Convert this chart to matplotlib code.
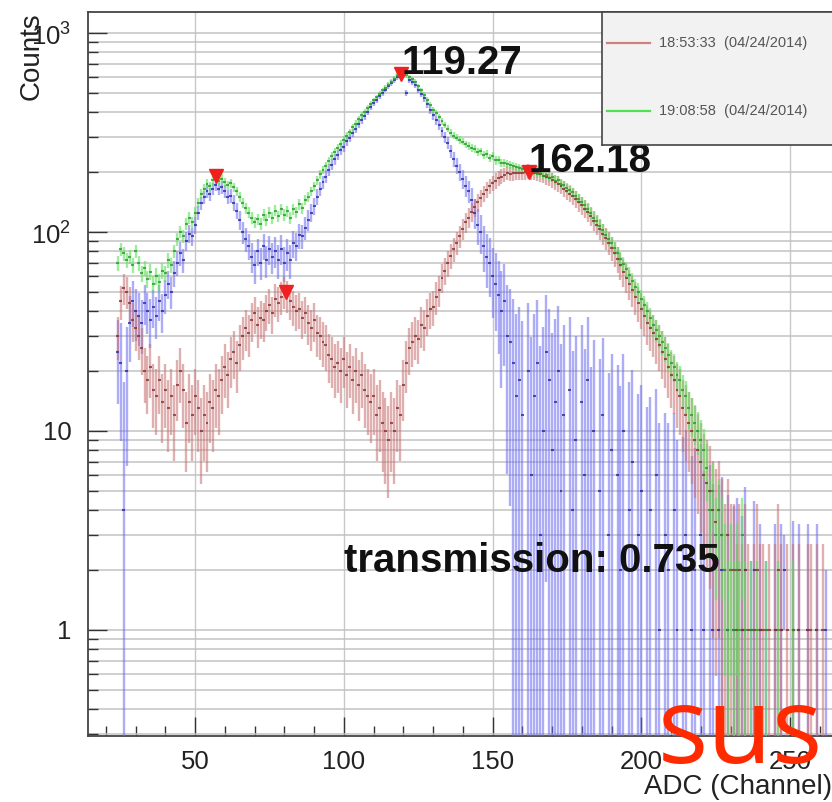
import numpy as np
import matplotlib

matplotlib.use("Agg")
import matplotlib.pyplot as plt
from matplotlib.ticker import MultipleLocator, LogLocator, FuncFormatter, NullFormatter

plt.rcParams["font.family"] = ["Liberation Sans", "DejaVu Sans"]
plt.rcParams["mathtext.fontset"] = "custom"
plt.rcParams["mathtext.rm"] = "Liberation Sans"

# ADC channels (bin centres), first bin = 24
first_channel = 24

# run 18:53:33 (04/24/2014)
red_counts = [
    30, 45, 52, 50, 44, 36, 33, 30, 26, 20,
    18, 21, 16, 15, 18, 14, 16, 13, 15, 12,
    17, 20, 16, 11, 14, 12, 15, 13, 10, 12,
    11, 14, 13, 16, 15, 18, 21, 19, 23, 25,
    22, 27, 30, 33, 31, 36, 39, 34, 37, 36,
    40, 43, 39, 46, 44, 47, 50, 48, 45, 42,
    40, 41, 37, 39, 35, 33, 36, 31, 30, 28,
    27, 24, 23, 21, 22, 20, 23, 19, 21, 18,
    20, 17, 19, 16, 15, 14, 15, 12, 13, 11,
    10, 9, 11, 10, 13, 12, 17, 22, 26, 28,
    30, 29, 34, 33, 38, 41, 42, 47, 51, 59,
    64, 70, 76, 82, 88, 95, 104, 112, 118, 126,
    133, 141, 148, 156, 163, 170, 176, 181, 186, 190,
    194, 198, 196, 197, 199, 199, 198, 200, 202, 199,
    199, 197, 195, 192, 189, 186, 182, 178, 175, 170,
    165, 160, 156, 151, 147, 141, 136, 131, 126, 120,
    114, 109, 104, 98, 93, 88, 83, 78, 73, 68,
    63, 59, 55, 51, 47, 44, 41, 38, 35, 33,
    31, 29, 27, 25, 23, 21, 19, 18, 16, 15,
    13, 12, 11, 10, 9, 8, 7, 6, 5.5, 5,
    4, 3.5, 4, 3, 2, 3, 2, 2, 1, 2,
    1, 2, 1, 0, 1, 2, 1, 1, 0, 1,
    0, 1, 2, 1, 0, 1, 0, 1, 0, 1,
    0, 0, 1, 1, 0, 1, 0, 1, 0,
]

# run 19:08:58 (04/24/2014)
green_counts = [
    70, 82, 78, 72, 75, 68, 80, 70, 62, 66,
    58, 63, 55, 60, 56, 64, 62, 72, 68, 80,
    92, 100, 95, 110, 118, 112, 125, 140, 155, 165,
    175, 170, 182, 188, 180, 185, 178, 172, 176, 168,
    160, 150, 140, 132, 125, 118, 112, 116, 110, 122,
    115, 125, 118, 128, 120, 130, 122, 127, 118, 130,
    126, 138, 132, 145, 150, 160, 170, 182, 195, 205,
    215, 228, 240, 252, 265, 278, 290, 305, 318, 335,
    350, 368, 385, 400, 420, 440, 458, 475, 495, 515,
    532, 550, 570, 590, 610, 630, 625, 615, 600, 585,
    570, 540, 515, 490, 460, 435, 412, 395, 378, 360,
    345, 330, 315, 305, 298, 290, 284, 276, 270, 265,
    262, 252, 254, 244, 246, 236, 240, 229, 231, 222,
    222, 220, 218, 215, 212, 210, 208, 206, 205, 203,
    203, 196, 199, 192, 194, 187, 189, 181, 182, 174,
    172, 167, 163, 158, 152, 147, 141, 136, 130, 124,
    118, 113, 107, 102, 97, 92, 88, 83, 78, 73,
    69, 65, 61, 57, 53, 50, 46, 43, 40, 37,
    34, 32, 30, 28, 26, 24, 22, 21, 19, 18,
    16, 15, 13, 12, 11, 10, 9, 8, 6.5, 4,
    5, 3, 4, 3, 2, 1, 2, 1, 2, 1,
    3, 1, 0, 1, 0, 1, 0, 0, 1, 0,
    0, 0, 1, 0, 0, 0, 0, 1, 0, 0,
    0, 0, 0, 0, 0, 0, 0, 0, 0,
]

# difference spectrum
blue_counts = [
    25, 22, 4, 20, 35, 45, 40, 38, 35, 44,
    40, 36, 42, 38, 45, 40, 48, 55, 50, 62,
    70, 78, 72, 90, 98, 95, 108, 125, 140, 150,
    160, 155, 165, 172, 165, 168, 160, 150, 152, 140,
    128, 115, 100, 92, 85, 75, 68, 80, 70, 85,
    72, 82, 75, 80, 72, 82, 70, 78, 72, 88,
    85, 96, 95, 105, 115, 125, 135, 150, 165, 178,
    190, 205, 218, 232, 245, 258, 268, 285, 298, 315,
    330, 348, 365, 382, 402, 425, 445, 462, 482, 502,
    520, 540, 560, 580, 600, 618, 612, 500, 580, 565,
    550, 520, 495, 470, 440, 410, 385, 365, 345, 320,
    300, 280, 255, 232, 215, 200, 185, 170, 160, 145,
    125, 108, 100, 85, 75, 70, 60, 55, 48, 40,
    45, 30, 28, 22, 15, 18, 12, 0, 20, 6,
    15, 22, 3, 10, 25, 18, 8, 14, 20, 5,
    12, 0, 16, 4, 9, 0, 14, 6, 18, 2,
    10, 0, 5, 12, 0, 3, 8, 0, 6, 2,
    10, 0, 4, 7, 0, 3, 5, 0, 2, 4,
    0, 6, 1, 0, 3, 2, 0, 4, 1, 0,
    2, 3, 0, 1, 2, 0, 3, 1, 0, 2,
    1, 0, 1, 2, 0, 1, 0, 1, 2, 0,
    1, 2, 0, 1, 2, 0, 1, 0, 1, 0,
    0, 1, 0, 1, 2, 0, 0, 1, 0, 1,
    0, 0, 1, 0, 0, 1, 0, 0, 1,
]

# peaks found by the search
peak_x = [57.0, 80.6, 119.27, 162.18]
peak_y = [192, 50, 620, 200]
transmission = 0.735

legend_labels = ["18:53:33  (04/24/2014)", "19:08:58  (04/24/2014)"]

channels = first_channel + np.arange(len(red_counts))
red = np.array(red_counts, float)
green = np.array(green_counts, float)
blue = np.array(blue_counts, float)

# bin errors
red_err = 1.7 * red ** 0.43
green_err = np.sqrt(0.5 * green + 1.0)
blue_err = np.sqrt(green_err ** 2 + (1.3 * red_err) ** 2)


def draw_hist(ax, x, vals, errs, bar_color, mark_color, alpha):
    keep = vals > 0
    lo = np.clip(vals - errs, 1e-3, None)
    hi = vals + errs
    ax.vlines(x[keep], lo[keep], hi[keep], color=bar_color, lw=1.7,
              alpha=alpha, zorder=3)
    ax.hlines(vals[keep], x[keep] - 0.5, x[keep] + 0.5, color=mark_color,
              lw=1.5, alpha=0.8, zorder=4)


fig = plt.figure(figsize=(8.32, 8.02), dpi=100)
ax = fig.add_axes([88 / 832, 66 / 802, 744 / 832, 724 / 802])
ax.set_yscale("log")
ax.set_xlim(14.0, 264.1)
ax.set_ylim(0.293, 1275)

draw_hist(ax, channels, blue, blue_err, "#6a6af2", "#2a2aa8", 0.55)
draw_hist(ax, channels, red, red_err, "#c87070", "#8a3030", 0.55)
draw_hist(ax, channels, green, green_err, "#5ee05e", "#2a9a2a", 0.6)

ax.plot(peak_x, peak_y, "v", color="#f02020", ms=10, zorder=6)

# labels for the two main peaks
for px, py in zip(peak_x[2:], peak_y[2:]):
    ax.text(px, py, f"{px:.2f}", fontsize=29, fontweight="bold",
            ha="left", va="baseline", color="#111111", zorder=7)
ax.text(100.2, 1.95, f"transmission: {transmission}", fontsize=29,
        fontweight="bold", ha="left", va="baseline", color="#111111", zorder=7)

# axes styling
ax.xaxis.set_major_locator(MultipleLocator(50))
ax.xaxis.set_minor_locator(MultipleLocator(10))
ax.yaxis.set_major_locator(LogLocator(base=10))
ax.yaxis.set_minor_locator(LogLocator(base=10, subs=np.arange(2, 10)))
ax.yaxis.set_minor_formatter(NullFormatter())
ylabels = {1: "1", 10: "10", 100: "$10^2$", 1000: "$10^3$"}
ax.yaxis.set_major_formatter(
    FuncFormatter(lambda v, _: ylabels.get(int(round(v)), "")))

ax.tick_params(which="both", direction="in", colors="#333333",
               labelcolor="#222222", labelsize=18.5, top=False, right=False)
ax.tick_params(which="major", length=14, width=1.0)
ax.tick_params(which="minor", length=7, width=1.0)
ax.tick_params(axis="x", pad=10)
ax.tick_params(axis="y", pad=12)

ax.set_axisbelow(True)
ax.yaxis.grid(True, which="both", color="#c2c2c2", lw=1.1)
ax.xaxis.grid(True, which="major", color="#c8c8c8", lw=1.0)
for side in ["left", "bottom", "top"]:
    ax.spines[side].set_color("#444444")
    ax.spines[side].set_linewidth(1.3)
ax.spines["right"].set_visible(False)

ax.set_xlabel("ADC (Channel)", fontsize=20, color="#222222", loc="right")
ax.xaxis.set_label_coords(1.0, -0.052)
ax.set_ylabel("Counts", fontsize=20, color="#222222", loc="top")
ax.yaxis.set_label_coords(-0.058, 1.0)

# legend box
lax = fig.add_axes([602 / 832, (802 - 145) / 802, 0.29, 133 / 802])
lax.set_xlim(0, 1)
lax.set_ylim(0, 1)
lax.set_facecolor("#f2f2f2")
lax.set_xticks([])
lax.set_yticks([])
for s in lax.spines.values():
    s.set_color("#444444")
    s.set_linewidth(1.2)
lax.set_zorder(10)
scale = 832 * 0.29
for label, color, yy in zip(legend_labels, ["#d08080", "#50e050"], [0.767, 0.256]):
    lax.plot([5 / scale, 48 / scale], [yy, yy], color=color, lw=1.6)
    lax.text(57 / scale, yy, label, fontsize=10.5, color="#555555",
             ha="left", va="center")

fig.text(740 / 832, (802 - 735) / 802, "sus", fontsize=76, color="#ff2a00",
         ha="center", va="center", family="Open Sans", zorder=20)

fig.savefig("out.png", dpi=100)
